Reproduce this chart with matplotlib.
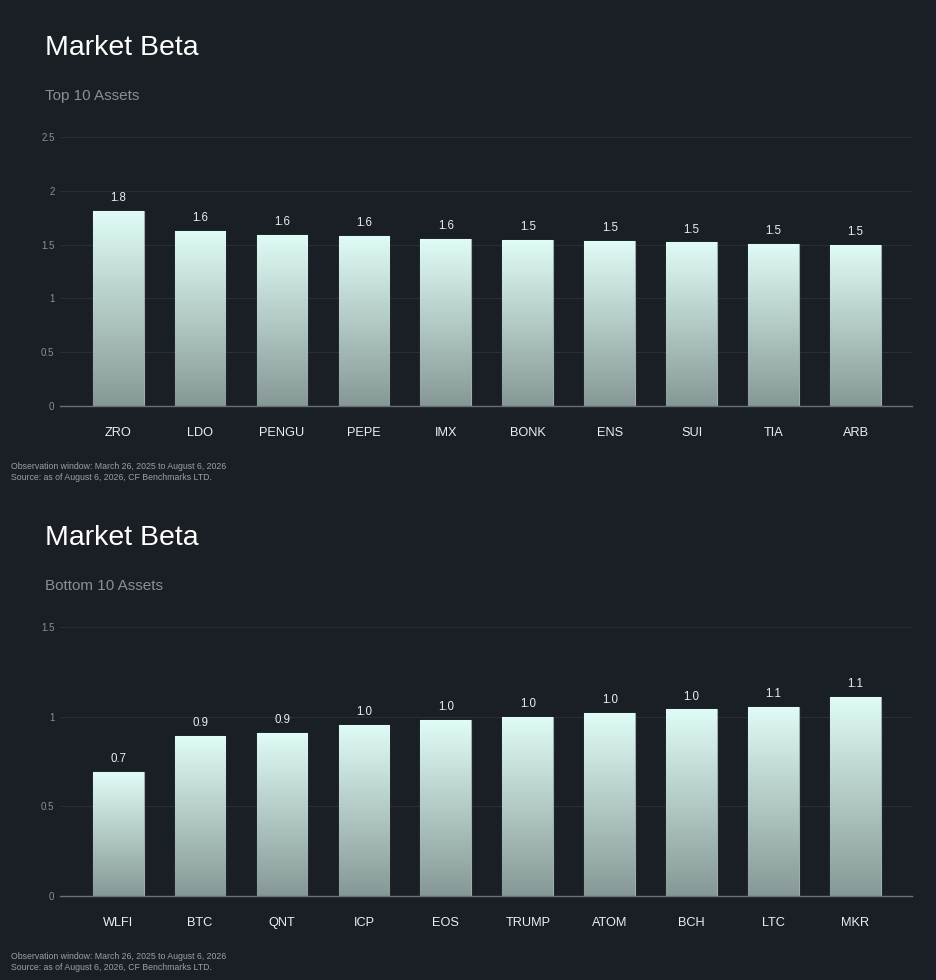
import matplotlib.pyplot as plt
import numpy as np
from matplotlib.colors import LinearSegmentedColormap

plt.rcParams['font.family'] = ['Liberation Sans', 'DejaVu Sans']

BG = '#1a1e25'
GRID = '#2a2f36'
TICK = '#8a8f96'
TEXT = '#eceff1'

top_assets = ['ZRO', 'LDO', 'PENGU', 'PEPE', 'IMX', 'BONK', 'ENS', 'SUI', 'TIA', 'ARB']
top_beta = [1.81, 1.63, 1.59, 1.58, 1.55, 1.54, 1.53, 1.52, 1.51, 1.50]

bottom_assets = ['WLFI', 'BTC', 'QNT', 'ICP', 'EOS', 'TRUMP', 'ATOM', 'BCH', 'LTC', 'MKR']
bottom_beta = [0.69, 0.89, 0.91, 0.955, 0.98, 1.00, 1.02, 1.04, 1.055, 1.11]

top_ticks = [0, 0.5, 1, 1.5, 2, 2.5]
bottom_ticks = [0, 0.5, 1, 1.5]

footnote = ('Observation window: March 26, 2025 to August 6, 2026\n'
            'Source: as of August 6, 2026, CF Benchmarks LTD.')

bar_cmap = LinearSegmentedColormap.from_list('bar', ['#869896', '#e0fcf6'])


def draw_panel(fig, rect, assets, values, ticks, subtitle, title_y, sub_y, foot_y):
    ax = fig.add_axes(rect)
    ax.set_facecolor(BG)
    x = np.arange(len(assets))
    bars = ax.bar(x, values, width=0.62, color='#b0c4c1',
                  edgecolor='#9cadab', linewidth=0.8, zorder=2)
    grad = np.linspace(0, 1, 256).reshape(-1, 1)
    for b in bars:
        x0, y0 = b.get_x(), b.get_y()
        w, h = b.get_width(), b.get_height()
        im = ax.imshow(grad, cmap=bar_cmap, origin='lower', aspect='auto',
                       extent=[x0, x0 + w, y0, y0 + h], zorder=2.5)
        im.set_clip_path(b)
    for xi, v in zip(x, values):
        ax.annotate(f'{v:.1f}', (xi, v), xytext=(0, 5), textcoords='offset points',
                    ha='center', va='bottom', color=TEXT, fontsize=8.3)

    ax.set_xlim(-0.71, 9.69)
    ax.set_ylim(0, ticks[-1])
    ax.set_yticks(ticks)
    ax.set_yticklabels([f'{t:g}' for t in ticks])
    ax.set_xticks(x)
    ax.set_xticklabels(assets)
    ax.tick_params(axis='y', length=0, pad=4, labelsize=7, labelcolor=TICK)
    ax.tick_params(axis='x', length=0, pad=15, labelsize=9.2, labelcolor=TEXT)
    ax.grid(axis='y', color=GRID, linewidth=0.8, zorder=0)
    ax.set_axisbelow(True)
    for s in ['top', 'right', 'left']:
        ax.spines[s].set_visible(False)
    ax.spines['bottom'].set_color('#6b7078')
    ax.spines['bottom'].set_linewidth(1.0)
    ax.spines['bottom'].set_zorder(3)

    fig.text(45 / 936, 1 - title_y / 980, 'Market Beta', color='#ffffff',
             fontsize=20.5, va='center', ha='left')
    fig.text(45 / 936, 1 - sub_y / 980, subtitle, color=TICK,
             fontsize=11, va='center', ha='left')
    fig.text(11 / 936, 1 - foot_y / 980, footnote, color='#9ba0a6',
             fontsize=6.3, va='center', ha='left', linespacing=1.2)
    return ax


fig = plt.figure(figsize=(9.36, 9.8), dpi=100)
fig.patch.set_facecolor(BG)

draw_panel(fig, [60 / 936, 1 - 406 / 980, 852 / 936, 269 / 980],
           top_assets, top_beta, top_ticks, 'Top 10 Assets', 48, 96, 472)
draw_panel(fig, [60 / 936, 1 - 896 / 980, 852 / 936, 269 / 980],
           bottom_assets, bottom_beta, bottom_ticks, 'Bottom 10 Assets', 538, 586, 962)

fig.savefig('out.png', dpi=100, facecolor=BG)
